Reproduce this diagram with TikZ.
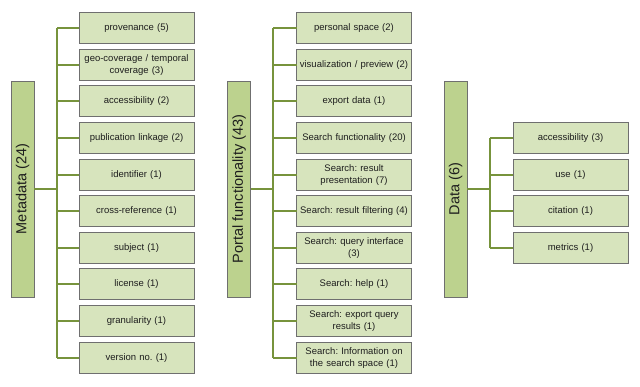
\documentclass[tikz,border=0pt]{standalone}
\usepackage{fontspec}
\setmainfont{Liberation Sans}
\definecolor{childfill}{HTML}{D7E4BD}
\definecolor{parentfill}{HTML}{BCD28E}
\definecolor{boxline}{HTML}{6F6F6F}
\definecolor{conncol}{HTML}{77933C}
\definecolor{txtcol}{HTML}{1E1E1E}
\frenchspacing
\begin{document}
\begin{tikzpicture}[x=1pt,y=-1pt,
  childbox/.style={draw=boxline, line width=1pt, fill=childfill, minimum width=115pt, minimum height=31pt,
    inner sep=1pt, outer sep=0pt, align=center, text width=113pt, font=\fontsize{9.5}{11.5}\selectfont\frenchspacing, text=txtcol},
  parentbox/.style={draw=boxline, line width=1pt, fill=parentfill, minimum width=23pt, minimum height=216pt,
    inner sep=0pt, outer sep=0pt, font=\fontsize{14.5}{16}\selectfont, text=txtcol},
  conn/.style={draw=conncol, line width=2pt}]
\useasboundingbox (0,0) rectangle (640,386);

% ---------- Metadata ----------
\node[parentbox] (m) at (22.5,189) {\rotatebox{90}{Metadata (24)}};
\coordinate (ms) at (57,0);
\node[childbox] (m1) at (136.5,28) {provenance (5)};
\node[childbox] (m2) at (136.5,65) {geo-coverage / temporal\\coverage (3)};
\node[childbox] (m3) at (136.5,101) {accessibility (2)};
\node[childbox] (m4) at (136.5,138) {publication linkage (2)};
\node[childbox] (m5) at (136.5,175) {identifier (1)};
\node[childbox] (m6) at (136.5,211) {cross-reference (1)};
\node[childbox] (m7) at (136.5,248) {subject (1)};
\node[childbox] (m8) at (136.5,284) {license (1)};
\node[childbox] (m9) at (136.5,321) {granularity (1)};
\node[childbox] (m10) at (136.5,358) {version no. (1)};
\draw[conn] (m1.west -| ms) -- (m10.west -| ms);
\draw[conn] (m.east) -- (m.east -| ms);
\foreach \i in {1,...,10} {\draw[conn] (m\i.west) -- (m\i.west -| ms);}

% ---------- Portal functionality ----------
\node[parentbox] (p) at (239,189) {\rotatebox{90}{Portal functionality (43)}};
\coordinate (ps) at (273,0);
\node[childbox] (p1) at (354,28) {personal space (2)};
\node[childbox] (p2) at (354,65) {visualization / preview (2)};
\node[childbox] (p3) at (354,101) {export data (1)};
\node[childbox] (p4) at (354,138) {Search functionality (20)};
\node[childbox] (p5) at (354,175) {Search: result\\presentation (7)};
\node[childbox] (p6) at (354,211) {Search: result filtering (4)};
\node[childbox] (p7) at (354,248) {Search: query interface\\(3)};
\node[childbox] (p8) at (354,284) {Search: help (1)};
\node[childbox] (p9) at (354,321) {Search: export query\\results (1)};
\node[childbox] (p10) at (354,358) {Search: Information on\\the search space (1)};
\draw[conn] (p1.west -| ps) -- (p10.west -| ps);
\draw[conn] (p.east) -- (p.east -| ps);
\foreach \i in {1,...,10} {\draw[conn] (p\i.west) -- (p\i.west -| ps);}

% ---------- Data ----------
\node[parentbox] (d) at (455.5,189) {\rotatebox{90}{Data (6)}};
\coordinate (ds) at (490,0);
\node[childbox] (d1) at (570.5,138) {accessibility (3)};
\node[childbox] (d2) at (570.5,175) {use (1)};
\node[childbox] (d3) at (570.5,211) {citation (1)};
\node[childbox] (d4) at (570.5,248) {metrics (1)};
\draw[conn] (d1.west -| ds) -- (d4.west -| ds);
\draw[conn] (d.east) -- (d.east -| ds);
\foreach \i in {1,...,4} {\draw[conn] (d\i.west) -- (d\i.west -| ds);}
\end{tikzpicture}
\end{document}
